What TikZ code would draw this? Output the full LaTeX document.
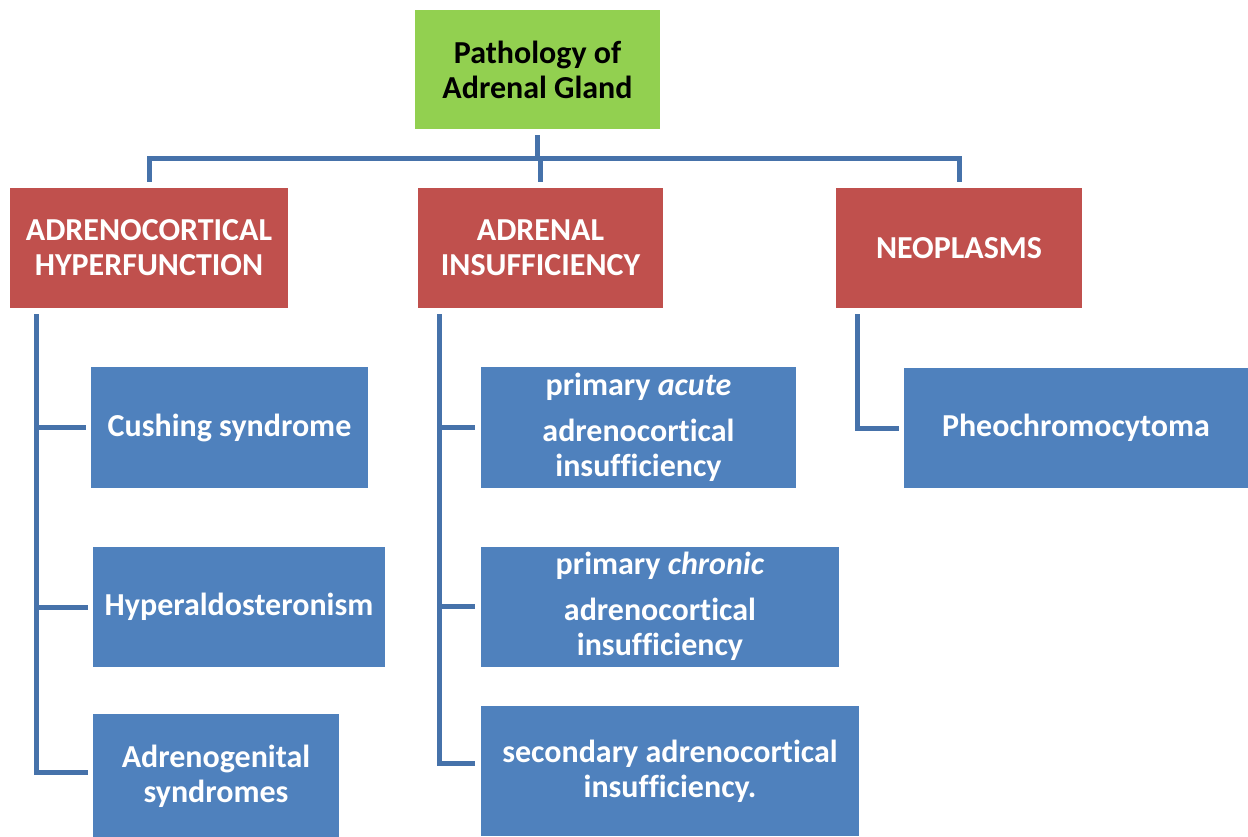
\documentclass[tikz,border=0pt]{standalone}
\usepackage{fontspec}
\setmainfont[Ligatures=NoCommon]{Carlito}
\usetikzlibrary{positioning}

\definecolor{rootgreen}{RGB}{146,208,80}
\definecolor{catred}{RGB}{192,80,77}
\definecolor{itemblue}{RGB}{79,129,189}
\definecolor{linkblue}{RGB}{70,114,170}

\begin{document}
\begin{tikzpicture}[x=1pt,y=-1pt,
  box/.style={inner sep=0pt,align=center,font=\fontsize{32}{35}\selectfont\bfseries},
  dims/.style 2 args={minimum width=#1pt,minimum height=#2pt},
  rootbox/.style={box,fill=rootgreen,text=black},
  catbox/.style={box,fill=catred,text=white},
  itembox/.style={box,fill=itemblue,text=white},
  link/.style={draw=linkblue,line width=5pt}]
  \useasboundingbox (0,0) rectangle (1248,837);

  % top of the tree
  \node[rootbox,dims={245}{119}] (root) at (537.5,69.5) {Pathology of\\Adrenal Gland};

  \node[catbox,dims={278}{120}] (hyperf) at (149,248) {ADRENOCORTICAL\\HYPERFUNCTION};
  \node[catbox,dims={245}{120}] (insuff) at (540.5,248) {ADRENAL\\INSUFFICIENCY};
  \node[catbox,dims={246}{120}] (neopl) at (959,248) {NEOPLASMS};

  % first column
  \node[itembox,dims={277}{121}] (cushing) at (229.5,427.5) {Cushing syndrome};
  \node[itembox,dims={292}{120}] (hyperald) at (239,607) {Hyperaldosteronism};
  \node[itembox,dims={246}{124}] (adrgen) at (216,776) {Adrenogenital\\syndromes};

  % second column
  \node[itembox,dims={315}{121}] (acute) at (638.5,427)
    {primary \textit{acute}\\[11pt]adrenocortical\\insufficiency};
  \node[itembox,dims={358}{120}] (chronic) at (660,606.5)
    {primary \textit{chronic}\\[11pt]adrenocortical\\insufficiency};
  \node[itembox,dims={378}{130}] (second) at (670,771)
    {secondary adrenocortical\\insufficiency.};

  % third column
  \node[itembox,dims={344}{120}] (pheo) at (1076,428) {Pheochromocytoma};

  % bus under the root
  \coordinate (bus) at ([yshift=-29pt]root.south);
  \draw[link] ([yshift=-6pt]root.south) -- (bus);
  \draw[link] ([yshift=6pt]hyperf.north) -- (bus -| hyperf.north)
    -- (bus -| neopl.north) -- ([yshift=6pt]neopl.north);
  \draw[link] (bus -| insuff.north) -- ([yshift=6pt]insuff.north);

  % spines
  \coordinate (spineA) at ([xshift=27pt,yshift=-6pt]hyperf.south west);
  \coordinate (spineB) at ([xshift=22pt,yshift=-6pt]insuff.south west);
  \coordinate (spineC) at ([xshift=22pt,yshift=-6pt]neopl.south west);

  \draw[link] (spineA) |- ([xshift=-5pt,yshift=4pt]adrgen.west);
  \draw[link] (spineA |- cushing.west) -- ([xshift=-5pt]cushing.west);
  \draw[link] (spineA |- hyperald.west) -- ([xshift=-5pt]hyperald.west);

  \draw[link] (spineB) |- ([xshift=-6pt,yshift=8pt]second.west);
  \draw[link] (spineB |- acute.west) -- ([xshift=-6pt]acute.west);
  \draw[link] (spineB |- chronic.west) -- ([xshift=-6pt]chronic.west);

  \draw[link] (spineC) |- ([xshift=-5pt]pheo.west);
\end{tikzpicture}
\end{document}
